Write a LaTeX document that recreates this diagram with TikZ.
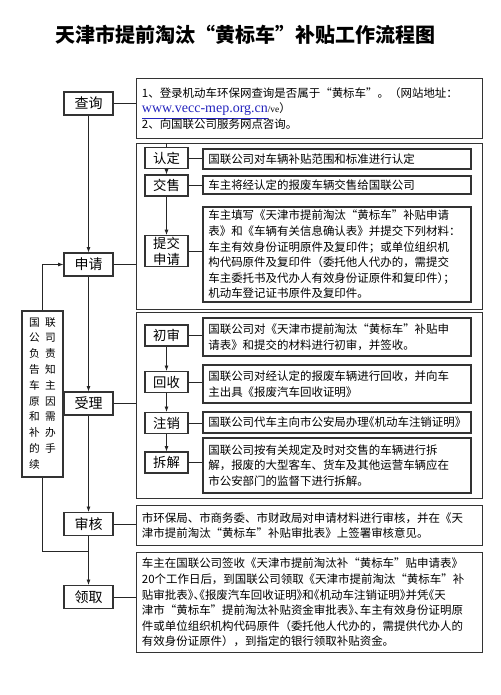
\documentclass[tikz,border=0pt]{standalone}
\usepackage{fontspec}
\setmainfont{Noto Sans CJK SC}
\newfontfamily\urlfont{Liberation Serif}
\newcommand\halfpunct{\addfontfeature{RawFeature=+halt}}
\usetikzlibrary{arrows.meta}
\definecolor{linkblue}{RGB}{36,36,190}
\tikzset{
    stage/.style={draw=black!80, line width=0.9pt, fill=white, minimum width=36.75pt, minimum height=17.25pt, inner sep=1pt, font=\fontsize{10.5}{12}\selectfont},
    substep/.style={draw=black!80, line width=0.9pt, fill=white, minimum width=32.25pt, minimum height=15.75pt, inner sep=1pt, align=center, font=\fontsize{10}{11.8}\selectfont},
    detail/.style={draw=black!80, line width=0.9pt, fill=white, text width=193pt, inner xsep=4pt, inner ysep=1pt, align=left, font=\fontsize{8.6}{11.7}\selectfont},
    note/.style={detail, text width=251.5pt, anchor=north west},
    group/.style={draw=black!80, line width=0.9pt, minimum width=259.5pt, anchor=north west},
    flow/.style={black!85, line width=0.6pt},
    arrow/.style={flow, -{Latex[length=4pt, width=3pt]}},
    common settings/.style={x=0.75pt, y=-0.75pt}
}

\begin{document}
\begin{tikzpicture}[common settings]
    \useasboundingbox (0,0) rectangle (500,695);

    % Title
    \node[font=\fontsize{15}{18}\selectfont\bfseries] (title) at (245,35) {天津市提前淘汰“黄标车”补贴工作流程图};

    % Main stages
    \node[stage] (query) at (88.5,103.5) {查询};
    \node[stage] (apply) at (88.5,264.5) {申请};
    \node[stage] (handle) at (88.5,403.5) {受理};
    \node[stage] (review) at (88.5,524) {审核};
    \node[stage] (collect) at (88.5,597) {领取};

    % Query notes
    \node[note, minimum height=45pt] (querytext) at (136,78) {1、登录机动车环保网查询是否属于“黄标车”。（网站地址：\\
        {\urlfont\fontsize{10.5}{11.7}\selectfont\color{linkblue}\underline{www.vecc-mep.org.cn}}{\urlfont\fontsize{7}{8}\selectfont /ve}）\\
        2、向国联公司服务网点咨询。};

    % Apply group
    \node[group, minimum height=124.5pt] (applygroup) at (136,143) {};
    \node[substep] (confirm) at (166.5,158) {认定};
    \node[substep] (sell) at (166.5,185.5) {交售};
    \node[substep] (submit) at (166.5,251) {提交\\申请};
    \node[detail, minimum height=15pt] (confirmtext) at (337,159) {国联公司对车辆补贴范围和标准进行认定};
    \node[detail, minimum height=13.5pt] (selltext) at (337,185) {车主将经认定的报废车辆交售给国联公司};
    \node[detail, minimum height=71.25pt] (submittext) at (337,254.5) {车主填写《天津市提前淘汰“黄标车”补贴申请\\
        表》和《车辆有关信息确认表》并提交下列材料：\\
        车主有效身份证明原件及复印件；或单位组织机\\
        构代码原件及复印件（委托他人代办的，需提交\\
        车主委托书及代办人有效身份证原件和复印件{\halfpunct ）；}\\
        机动车登记证书原件及复印件。};

    % Handle group
    \node[group, minimum height=139.5pt] (handlegroup) at (136,312) {};
    \node[substep] (precheck) at (166.5,335.5) {初审};
    \node[substep] (recycle) at (166.5,382) {回收};
    \node[substep] (cancel) at (166.5,423) {注销};
    \node[substep] (dismantle) at (166.5,462.5) {拆解};
    \node[detail, minimum height=28.5pt] (prechecktext) at (337,337) {国联公司对《天津市提前淘汰“黄标车”补贴申\\
        请表》和提交的材料进行初审，并签收。};
    \node[detail, minimum height=28.5pt] (recycletext) at (337,384) {国联公司对经认定的报废车辆进行回收，并向车\\
        主出具《报废汽车回收证明》};
    \node[detail, minimum height=15.75pt] (canceltext) at (337,422.5) {国联公司代车主向市公安局办理{\halfpunct 《}机动车注销证明{\halfpunct 》}};
    \node[detail, minimum height=41.25pt] (dismantletext) at (337,465.5) {国联公司按有关规定及时对交售的车辆进行拆\\
        解，报废的大型客车、货车及其他运营车辆应在\\
        市公安部门的监督下进行拆解。};

    % Review and collect notes
    \node[note, minimum height=30pt] (reviewtext) at (136,505) {市环保局、市商务委、市财政局对申请材料进行审核，并在《天\\
        津市提前淘汰“黄标车”补贴审批表》上签署审核意见。};
    \node[note, minimum height=75pt] (collecttext) at (136,552) {车主在国联公司签收《天津市提前淘汰补“黄标车”贴申请表》\\
        20个工作日后，到国联公司领取《天津市提前淘汰“黄标车”补\\
        贴审批表{\halfpunct 》、《}报废汽车回收证明{\halfpunct 》}和{\halfpunct 《}机动车注销证明{\halfpunct 》}并凭{\halfpunct 《}天\\
        津市“黄标车”提前淘汰补贴资金审批表{\halfpunct 》、}车主有效身份证明原\\
        件或单位组织机构代码原件（委托他人代办的，需提供代办人的\\
        有效身份证原件），到指定的银行领取补贴资金。};

    % Side note on the way back
    \node[draw=black!80, line width=0.9pt, fill=white, minimum width=30.75pt, minimum height=124.5pt, inner sep=0pt,
        font=\fontsize{8}{11.85}\selectfont] (sidenote) at (42.5,394) {%
        \begin{tabular}{@{}c@{\hspace{4pt}}c@{}}
            国&联\\ 公&司\\ 负&责\\ 告&知\\ 车&主\\ 原&因\\ 和&需\\ 补&办\\ 的&手\\ 续&
        \end{tabular}};

    % Main flow
    \draw[arrow] (query) -- (apply);
    \draw[arrow] (apply) -- (handle);
    \draw[arrow] (handle) -- (review);
    \draw[arrow] (review) -- (collect);

    \draw[flow] (query.east) -- (query.east -| querytext.west);
    \draw[flow] (apply.east) -- (apply.east -| applygroup.west);
    \draw[flow] (handle.east) -- (handle.east -| handlegroup.west);
    \draw[flow] (review.east) -- (review.east -| reviewtext.west);
    \draw[flow] (collect.east) -- (collect.east -| collecttext.west);

    % Steps inside the groups
    \draw[flow] (confirm.north) -- (confirm.north |- applygroup.north);
    \draw[arrow] (confirm) -- (sell);
    \draw[arrow] (sell) -- (submit);
    \draw[arrow] (precheck) -- (recycle);
    \draw[arrow] (recycle) -- (cancel);
    \draw[arrow] (cancel) -- (dismantle);

    \draw[flow] (confirm.east) -- (confirm.east -| confirmtext.west);
    \draw[flow] (sell.east) -- (sell.east -| selltext.west);
    \draw[flow] (submit.east) -- (submit.east -| submittext.west);
    \draw[flow] (precheck.east) -- (precheck.east -| prechecktext.west);
    \draw[flow] (recycle.east) -- (recycle.east -| recycletext.west);
    \draw[flow] (cancel.east) -- (cancel.east -| canceltext.west);
    \draw[flow] (dismantle.east) -- (dismantle.east -| dismantletext.west);

    % Loop back to the application
    \coordinate (back) at (88.5,551);
    \draw[flow] (back) -| (sidenote.south);
    \draw[arrow] (sidenote.north) |- (apply.west);
\end{tikzpicture}
\end{document}
